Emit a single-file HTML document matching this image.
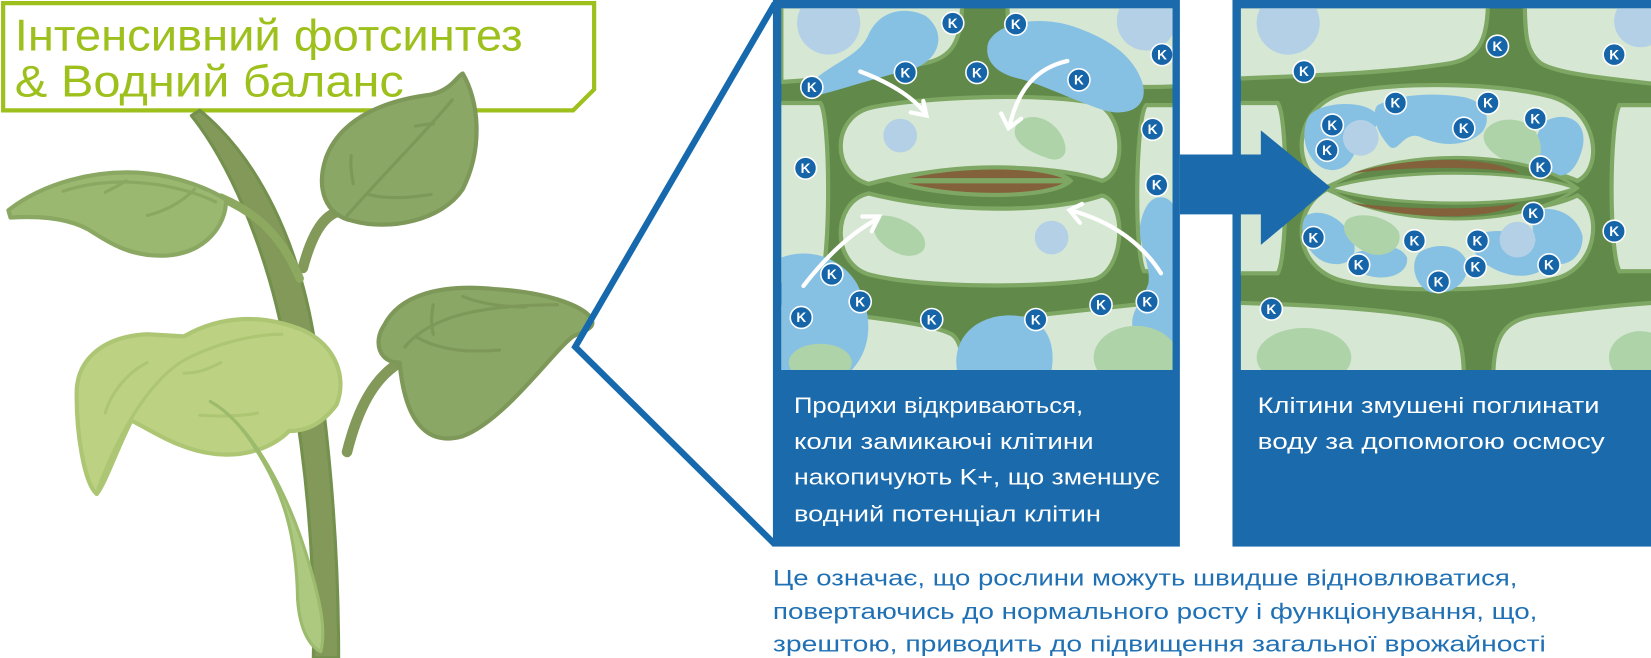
<!DOCTYPE html>
<html><head><meta charset="utf-8"><style>
html,body{margin:0;padding:0;background:#fff;width:1651px;height:658px;overflow:hidden}
svg{display:block}
text{font-family:"Liberation Sans","DejaVu Sans",sans-serif}
</style></head><body>
<svg width="1651" height="658" viewBox="0 0 1570 626" preserveAspectRatio="none" xmlns="http://www.w3.org/2000/svg">
<defs>
<clipPath id="c1"><rect x="743" y="8" width="372" height="344"/></clipPath>
<clipPath id="c2"><rect x="1180" y="8" width="390" height="344"/></clipPath>
<g id="k"><circle r="10.5" fill="#1565a8" stroke="#ffffff" stroke-width="1.5"/><text y="4.5" text-anchor="middle" font-size="13" font-weight="bold" fill="#fff">K</text></g>
</defs>

<!-- title box -->
<path d="M3 3 H565 V85 L545 105 H3 Z" fill="none" stroke="#9dc01c" stroke-width="4"/>
<text x="14" y="48" font-size="42" fill="#9dc01c" textLength="483" lengthAdjust="spacingAndGlyphs">Інтенсивний фотсинтез</text>
<text x="14" y="92" font-size="42" fill="#9dc01c" textLength="370" lengthAdjust="spacingAndGlyphs">&amp; Водний баланс</text>

<!-- plant -->
<g stroke-linejoin="round" stroke-linecap="round">
<path d="M190 105 C245 150 285 230 300 330 C310 400 322 500 322 626 L298 626 C300 520 288 420 273 340 C258 250 222 160 182 110 Z" fill="#82995a" stroke="#74904d" stroke-width="3"/>
<path d="M288 255 C300 210 315 200 330 200" fill="none" stroke="#82995a" stroke-width="10"/>
<path d="M210 188 C250 205 270 230 285 265" fill="none" stroke="#8ca95f" stroke-width="8"/>
<path d="M330 430 C340 390 355 360 380 345" fill="none" stroke="#82995a" stroke-width="10"/>
<path d="M335 210 C310 205 300 180 310 150 C325 110 370 95 410 90 C430 85 435 72 440 70 C455 95 460 140 440 180 C420 210 370 220 335 210 Z" fill="#8ba765" stroke="#7d9858" stroke-width="4"/>
<path d="M330 205 C370 160 410 120 430 95 M350 185 C370 190 390 188 410 185 M336 175 C334 165 333 155 334 148 M395 120 C405 118 410 118 412 118" fill="none" stroke="#7d9858" stroke-width="3"/>
<path d="M8 200 C40 175 90 160 140 165 C170 168 200 180 215 190 C215 215 195 240 160 243 C130 245 110 235 90 222 C70 208 40 205 10 207 Z" fill="#9ab870" stroke="#8aa862" stroke-width="4"/>
<path d="M60 182 C110 165 170 175 205 192 M100 183 C110 178 115 175 120 172 M140 205 C160 200 175 190 185 180" fill="none" stroke="#8aa862" stroke-width="3"/>
<path d="M380 345 C360 345 355 325 365 310 C380 280 420 270 470 275 C520 278 550 290 560 300 C570 312 555 315 545 320 C525 335 480 400 440 415 C405 425 385 400 380 345 Z" fill="#8ba765" stroke="#7d9858" stroke-width="4"/>
<path d="M385 330 C410 300 460 290 530 290 M395 320 C420 335 450 335 475 333 M440 282 C460 290 480 292 500 292 M412 290 C410 300 410 310 412 318" fill="none" stroke="#7d9858" stroke-width="3"/>
<path d="M175 320 C210 300 250 298 290 315 C320 330 330 360 320 385 C305 405 290 410 275 410 C260 425 235 435 205 432 C170 428 145 410 125 400 C110 430 100 460 92 470 C80 460 72 410 73 370 C75 340 100 320 140 318 Z" fill="#bcd282" stroke="#adc674" stroke-width="4"/>
<path d="M93 465 C110 420 140 360 180 340 C210 325 245 318 268 318 M100 393 C105 375 120 355 140 345 M190 395 C215 397 235 395 245 393 M175 355 C190 355 200 350 210 345" fill="none" stroke="#adc674" stroke-width="3"/>
<path d="M200 382 C240 405 275 470 295 540 C305 575 310 600 305 620 C295 615 285 600 283 570 C282 510 270 470 245 430 C230 405 215 390 200 382 Z" fill="#adc980" stroke="#9cbb6d" stroke-width="3"/>
</g>

<polyline points="737,3 547,330 737,518" fill="none" stroke="#1569ac" stroke-width="6"/>

<!-- panel 1 -->
<rect x="735" y="0" width="387" height="520" fill="#1b6aab"/>
<g clip-path="url(#c1)">
<rect x="743" y="8" width="372" height="344" fill="#618a4a"/>
<g fill="#d6e7d4" stroke="#7ea764" stroke-width="4">
<path d="M743 0 H915 C915 40 905 55 880 60 C830 70 790 75 743 78 Z"/>
<path d="M958 0 H1120 V82 C1070 85 1000 78 975 65 C960 55 958 40 958 0 Z"/>
<path d="M735 98 H780 C790 110 790 250 780 268 H735 Z"/>
<path d="M1125 100 H1090 C1080 110 1078 240 1088 258 H1125 Z"/>
<path d="M735 290 C800 300 880 305 905 318 C915 325 915 340 915 360 H735 Z"/>
<path d="M940 360 C940 320 950 305 985 300 C1030 295 1080 290 1125 285 V360 Z"/>
<path d="M830 102 C880 92 990 88 1040 98 C1070 106 1072 165 1048 172 C1000 155 900 155 826 175 C790 165 790 110 830 102 Z"/>
<path d="M826 184 C900 203 1000 203 1048 186 C1072 192 1070 258 1040 266 C990 274 880 274 830 262 C790 254 790 192 826 184 Z"/>
</g>
<path d="M848 172 C900 155 1000 155 1018 172 C1000 190 900 190 848 172 Z" fill="#83613a" stroke="#7ea764" stroke-width="4"/>
<line x1="850" y1="172" x2="1015" y2="172" stroke="#7ea764" stroke-width="5"/>
<g fill="#86c1e4">
<path d="M770 80 C790 60 815 55 825 35 C835 10 860 5 880 15 C900 30 895 55 870 65 C840 72 800 85 780 90 C765 92 760 88 770 80 Z"/>
<path d="M940 40 C950 20 990 15 1020 25 C1050 35 1075 50 1085 75 C1095 100 1075 112 1050 105 C1020 95 990 80 970 75 C945 70 935 55 940 40 Z"/>
<path d="M743 245 C770 235 800 245 815 270 C830 300 830 330 810 352 H743 Z"/>
<path d="M910 352 C905 320 930 300 960 300 C990 300 1005 320 1000 352 Z"/>
<path d="M1100 188 C1115 185 1120 200 1120 215 V330 C1110 340 1090 335 1080 320 C1070 300 1085 290 1092 270 C1095 250 1080 230 1085 210 C1088 198 1093 190 1100 188 Z"/>
</g>
<g fill="#b3d0e6"><circle cx="788" cy="22" r="30"/><circle cx="1090" cy="20" r="28"/><circle cx="856" cy="129" r="16"/><circle cx="1000" cy="226" r="16"/></g>
<g fill="#aed3a9"><path d="M966 120 C975 105 1000 110 1010 130 C1020 150 1005 155 995 150 C980 145 960 135 966 120 Z"/><path d="M832 208 C840 200 870 210 878 225 C885 240 870 245 860 243 C845 240 825 225 832 208 Z"/><ellipse cx="1080" cy="340" rx="40" ry="30"/><ellipse cx="780" cy="345" rx="30" ry="18"/></g>
<g fill="none" stroke="#fff" stroke-width="4" stroke-linecap="round">
<path d="M818 68 C845 78 868 92 880 108"/><path d="M866 107 L881 110 L878 96"/>
<path d="M1015 58 C985 65 968 85 960 120"/><path d="M952 108 L959 122 L971 113"/>
<path d="M764 272 C785 245 808 222 835 208"/><path d="M820 206 L836 206 L829 220"/>
<path d="M1104 260 C1085 230 1055 210 1018 200"/><path d="M1029 194 L1017 200 L1027 212"/>
</g>
<g>
<use href="#k" x="906" y="22"/><use href="#k" x="966" y="23"/><use href="#k" x="1105" y="52"/><use href="#k" x="772" y="83"/><use href="#k" x="861" y="69"/><use href="#k" x="929" y="69"/><use href="#k" x="1026" y="76"/><use href="#k" x="1096" y="123"/><use href="#k" x="766" y="160"/><use href="#k" x="1100" y="176"/><use href="#k" x="791" y="261"/><use href="#k" x="818" y="287"/><use href="#k" x="762" y="302"/><use href="#k" x="886" y="304"/><use href="#k" x="985" y="304"/><use href="#k" x="1047" y="290"/><use href="#k" x="1091" y="287"/>
</g>
</g>
<g font-size="21" fill="#fff" lengthAdjust="spacingAndGlyphs">
<text x="755" y="393" textLength="275" lengthAdjust="spacingAndGlyphs">Продихи відкриваються,</text>
<text x="755" y="427" textLength="285" lengthAdjust="spacingAndGlyphs">коли замикаючі клітини</text>
<text x="755" y="461" textLength="348" lengthAdjust="spacingAndGlyphs">накопичують K+, що зменшує</text>
<text x="755" y="496" textLength="292" lengthAdjust="spacingAndGlyphs">водний потенціал клітин</text>
</g>

<!-- panel 2 -->
<rect x="1172" y="0" width="398" height="520" fill="#1b6aab"/>
<g clip-path="url(#c2)">
<rect x="1180" y="8" width="390" height="344" fill="#618a4a"/>
<g fill="#d6e7d4" stroke="#7ea764" stroke-width="4">
<path d="M1172 0 H1415 C1415 40 1405 55 1380 60 C1320 70 1240 72 1172 75 Z"/>
<path d="M1450 0 H1575 V80 C1530 75 1480 70 1465 60 C1452 50 1450 35 1450 0 Z"/>
<path d="M1172 98 H1215 C1225 110 1225 245 1215 260 H1172 Z"/>
<path d="M1575 100 H1540 C1530 120 1530 240 1540 258 H1575 Z"/>
<path d="M1172 288 C1250 290 1330 295 1370 305 C1388 312 1392 330 1392 360 H1172 Z"/>
<path d="M1420 360 C1420 320 1430 305 1460 300 C1500 295 1540 290 1575 288 V360 Z"/>
<path d="M1280 88 C1330 78 1420 78 1475 92 C1520 105 1525 160 1500 172 C1450 150 1320 148 1262 178 C1225 160 1230 100 1280 88 Z"/>
<path d="M1262 180 C1320 208 1450 210 1500 186 C1525 200 1520 258 1475 266 C1420 278 1320 278 1280 268 C1230 258 1225 200 1262 180 Z"/>
</g>
<g fill="#86c1e4">
<path d="M1245 110 C1255 98 1290 95 1305 105 C1320 115 1300 130 1290 140 C1285 160 1270 165 1258 160 C1240 150 1236 125 1245 110 Z"/>
<path d="M1310 100 C1330 90 1360 88 1390 92 C1410 95 1420 110 1410 125 C1395 140 1370 140 1350 130 C1335 125 1330 145 1322 140 C1312 130 1302 110 1310 100 Z"/>
<path d="M1470 115 C1490 105 1510 115 1505 140 C1500 160 1490 172 1475 165 C1460 155 1455 130 1470 115 Z"/>
<path d="M1242 205 C1255 198 1275 205 1285 225 C1295 245 1280 255 1262 250 C1245 245 1232 220 1242 205 Z"/>
<path d="M1290 240 C1310 235 1330 230 1338 245 C1340 260 1320 268 1300 262 C1285 255 1280 245 1290 240 Z"/>
<path d="M1350 240 C1365 230 1390 232 1395 250 C1398 268 1380 282 1360 278 C1345 272 1340 250 1350 240 Z"/>
<path d="M1400 225 C1420 215 1450 220 1470 235 C1480 250 1465 265 1440 262 C1415 258 1395 240 1400 225 Z"/>
<path d="M1460 200 C1480 195 1500 205 1505 225 C1505 245 1490 255 1475 250 C1462 240 1452 215 1460 200 Z"/>
</g>
<g fill="#b3d0e6"><circle cx="1225" cy="22" r="30"/><circle cx="1560" cy="20" r="25"/><circle cx="1294" cy="131" r="17"/><circle cx="1443" cy="228" r="17"/></g>
<g fill="#aed3a9"><path d="M1412 125 C1420 110 1450 110 1460 125 C1470 140 1465 160 1450 160 C1430 155 1405 140 1412 125 Z"/><path d="M1280 210 C1290 200 1320 205 1330 220 C1335 235 1320 245 1305 242 C1290 238 1272 222 1280 210 Z"/><ellipse cx="1240" cy="340" rx="45" ry="28"/><ellipse cx="1560" cy="340" rx="30" ry="25"/></g>
<!-- pore -->
<path d="M1262 179 C1320 140 1450 140 1500 179 C1450 218 1320 218 1262 179 Z" fill="#618a4a" stroke="#7ea764" stroke-width="3"/>
<path d="M1285 165 C1340 148 1420 148 1445 165 C1410 158 1340 158 1285 165 Z" fill="#83613a"/>
<path d="M1285 193 C1340 210 1420 210 1445 193 C1410 200 1340 200 1285 193 Z" fill="#83613a"/>
<path d="M1264 179 C1320 160 1450 160 1498 179 C1450 198 1320 198 1264 179 Z" fill="#d6e7d4" stroke="#7ea764" stroke-width="3"/>
<g>
<use href="#k" x="1240" y="68"/><use href="#k" x="1424" y="44"/><use href="#k" x="1535" y="52"/><use href="#k" x="1327" y="98"/><use href="#k" x="1415" y="98"/><use href="#k" x="1267" y="119"/><use href="#k" x="1262" y="143"/><use href="#k" x="1392" y="122"/><use href="#k" x="1460" y="113"/><use href="#k" x="1465" y="159"/><use href="#k" x="1458" y="203"/><use href="#k" x="1249" y="226"/><use href="#k" x="1345" y="229"/><use href="#k" x="1405" y="229"/><use href="#k" x="1292" y="252"/><use href="#k" x="1403" y="254"/><use href="#k" x="1473" y="252"/><use href="#k" x="1368" y="268"/><use href="#k" x="1209" y="294"/><use href="#k" x="1535" y="220"/>
</g>
</g>
<g font-size="21" fill="#fff">
<text x="1196" y="393" textLength="325" lengthAdjust="spacingAndGlyphs">Клітини змушені поглинати</text>
<text x="1196" y="427" textLength="330" lengthAdjust="spacingAndGlyphs">воду за допомогою осмосу</text>
</g>

<path d="M1122 147 H1199 V124 L1265 178 L1199 233 V204 H1122 Z" fill="#1b6aab"/>

<g font-size="21" fill="#1f70b4">
<text x="735" y="557" textLength="708" lengthAdjust="spacingAndGlyphs">Це означає, що рослини можуть швидше відновлюватися,</text>
<text x="735" y="589" textLength="727" lengthAdjust="spacingAndGlyphs">повертаючись до нормального росту і функціонування, що,</text>
<text x="735" y="620" textLength="735" lengthAdjust="spacingAndGlyphs">зрештою, приводить до підвищення загальної врожайності</text>
</g>
</svg>
</body></html>
